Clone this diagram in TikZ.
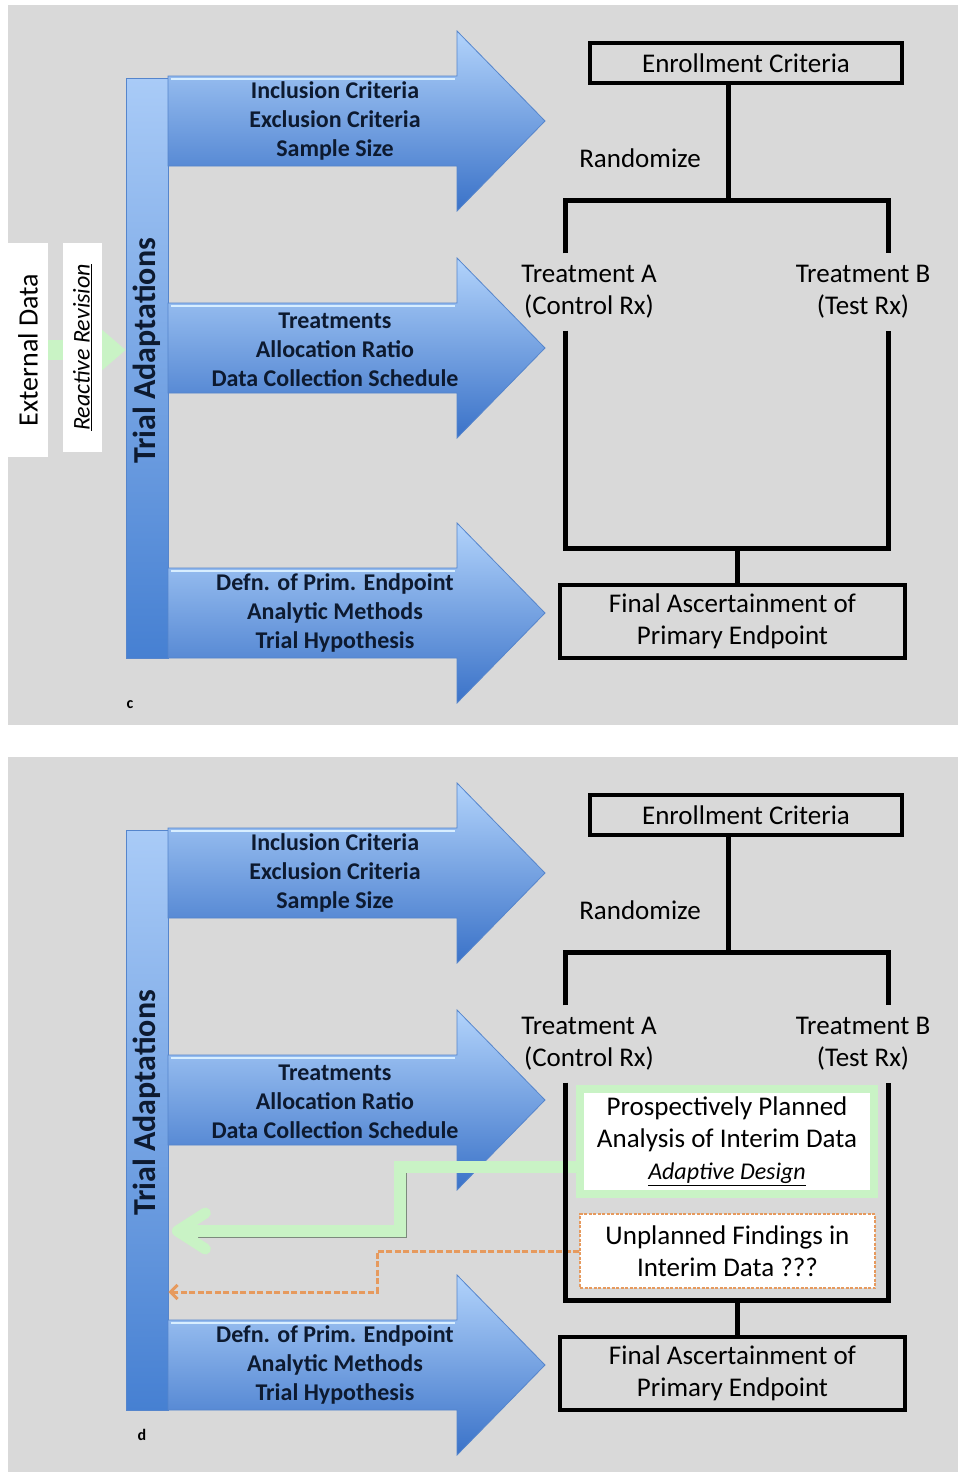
\documentclass[tikz,border=0pt]{standalone}
\usepackage{fontspec}
\setmainfont{Carlito}
\usetikzlibrary{calc}
\usetikzlibrary{arrows.meta}
\definecolor{panelgray}{HTML}{D9D9D9}
\definecolor{arrowtop}{HTML}{B2D3FB}
\definecolor{arrowbottom}{HTML}{3A72C8}
\definecolor{arrowedge}{HTML}{5585CC}
\definecolor{arrowshine}{HTML}{D8EEFF}
\definecolor{bartop}{HTML}{A9CBF7}
\definecolor{barbottom}{HTML}{4680D2}
\definecolor{navytext}{HTML}{0D1A30}
\definecolor{flowgreen}{HTML}{C9F3C5}
\definecolor{flowshadow}{HTML}{7C8A7C}
\definecolor{findorange}{HTML}{E69A5E}

% blue adaptation arrow, #1 = y of the tip
\newcommand{\adaptarrow}[1]{
\shade[adaptshape] (168,#1-45) -- (457,#1-45) -- (457,#1-90) -- (545,#1) -- (457,#1+90) -- (457,#1+45) -- (168,#1+45) -- cycle;
\draw[shine] (171,#1-42) -- (455,#1-42);
}

% bar with the three arrows
\newcommand{\adaptpanel}{
\node[adaptbar, minimum width=42, minimum height=580] (bar) at (147,368) {};
\node[rotate=90, font=\bfseries\fontsize{32}{38}\selectfont, text=navytext] (trial) at (147,351) {Trial Adaptations};
\adaptarrow{121}
\adaptarrow{348}
\adaptarrow{613}
\node[arrowtext] (enrolltext) at (335,121) {Inclusion Criteria\\Exclusion Criteria\\Sample Size};
\node[arrowtext] (treattext) at (335,350) {Treatments\\Allocation Ratio\\Data Collection Schedule};
\node[arrowtext] (endtext) at (335,613) {Defn. of Prim. Endpoint\\Analytic Methods\\Trial Hypothesis};
}

% randomized study scheme
\newcommand{\studytree}{
\node[treebox, minimum width=312, minimum height=40] (enroll) at (746,63) {Enrollment Criteria};
\coordinate (split) at (728,200);
\coordinate (atop) at (565,200);
\coordinate (btop) at (888,200);
\coordinate (abot) at (565,548);
\coordinate (bbot) at (888,548);
\coordinate (merge) at (737,548);
\node[treetext] (rand) at (640,158) {Randomize};
\node[treetext, minimum height=77] (treatA) at (589,292) {Treatment A\\(Control Rx)};
\node[treetext, minimum height=77] (treatB) at (863,292) {Treatment B\\(Test Rx)};
\node[treebox, minimum width=345, minimum height=73] (final) at (732.5,621.5) {Final Ascertainment of\\Primary Endpoint};
\draw[treeline] (split |- enroll.south) -- (split);
\draw[treeline] (atop |- treatA.north) -- (atop) -- (btop) -- (btop |- treatB.north);
\draw[treeline] (atop |- treatA.south) -- (abot) -- (bbot) -- (btop |- treatB.south);
\draw[treeline] (merge) -- (merge |- final.north);
}

\begin{document}
\begin{tikzpicture}[x=1pt, y=-1pt,
adaptshape/.style={top color=arrowtop, bottom color=arrowbottom, draw=arrowedge, line width=.8},
shine/.style={draw=arrowshine, line width=2},
adaptbar/.style={top color=bartop, bottom color=barbottom, draw=arrowedge, line width=.8, inner sep=0},
arrowtext/.style={font=\bfseries\fontsize{24}{29}\selectfont, text=navytext, align=center},
treetext/.style={font=\fontsize{27}{32}\selectfont, text=black, align=center, inner sep=0},
treebox/.style={treetext, draw=black, line width=4},
treeline/.style={draw=black, line width=5},
sidebox/.style={fill=white, inner sep=0},
plannedbox/.style={treetext, draw=flowgreen, line width=8, fill=white},
findbox/.style={treetext, draw=findorange, line width=1.3, dash pattern=on 3pt off 1.5pt, fill=white},
greenflow/.style={draw=flowgreen, line width=12},
greenhead/.style={draw=flowgreen, line width=11, line cap=round, line join=round},
greenshade/.style={draw=flowshadow, line width=1.5},
findflow/.style={draw=findorange, line width=3, dash pattern=on 6pt off 2.5pt},
panellabel/.style={font=\bfseries\fontsize{16}{19}\selectfont, text=black}]
\useasboundingbox (0,0) rectangle (958,1472);
\fill[white] (0,0) rectangle (958,1472);
\fill[panelgray] (8,5) rectangle (958,725);
\fill[panelgray] (8,757) rectangle (958,1472);

% panel c
\begin{scope}[name prefix=c-]
\adaptpanel
\studytree
\node[sidebox, minimum width=40, minimum height=214] (extdata) at (28,350) {};
\coordinate (tipend) at (extdata.east -| bar.west);
\draw[draw=flowgreen, line width=20] (extdata.east) -- ($(tipend)+(-25,0)$);
\fill[flowgreen] ($(tipend)+(-25,-21.5)$) -- (tipend) -- ($(tipend)+(-25,21.5)$) -- cycle;
\node[sidebox, minimum width=39, minimum height=209] (revision) at (82.5,347.5) {};
\node[rotate=90, font=\fontsize{28}{34}\selectfont] (extlabel) at (extdata) {External Data};
\node[rotate=90, font=\fontsize{24}{29}\selectfont] (revlabel) at (revision) {\underline{\textit{Reactive Revision}}};
\node[panellabel] (labc) at (130,705) {c};
\end{scope}

% panel d
\begin{scope}[shift={(0,752)}, name prefix=d-]
\adaptpanel
\node[plannedbox, minimum width=294, minimum height=105] (planned) at (727,389.5) {Prospectively Planned\\Analysis of Interim Data\\{\fontsize{24}{32}\selectfont\underline{\textit{Adaptive Design}}}};
\node[findbox, minimum width=295, minimum height=74] (unplanned) at (727.5,499) {Unplanned Findings in\\Interim Data ???};
\coordinate (gstart) at ($(planned.west)+(0,25)$);
\coordinate (gknee) at (400,479);
\coordinate (gend) at (bar.east |- gknee);
\coordinate (oknee) at (377,540);
\draw[greenshade] ($(gstart)+(0,6)$) -| ($(gknee)+(6,6)$) -- ($(gend)+(30,6)$);
\draw[greenflow] (gstart) -| (gknee) -- ($(gend)+(10,0)$);
\draw[greenhead] ($(gend)+(37,-18)$) -- ($(gend)+(9,0)$) -- ($(gend)+(37,18)$);
\draw[findflow, -{Straight Barb[length=7pt,width=14pt]}] (unplanned.west) -| (oknee) -- (bar.east |- oknee);
\studytree
\node[panellabel] (labd) at (142,683) {d};
\end{scope}
\end{tikzpicture}
\end{document}
